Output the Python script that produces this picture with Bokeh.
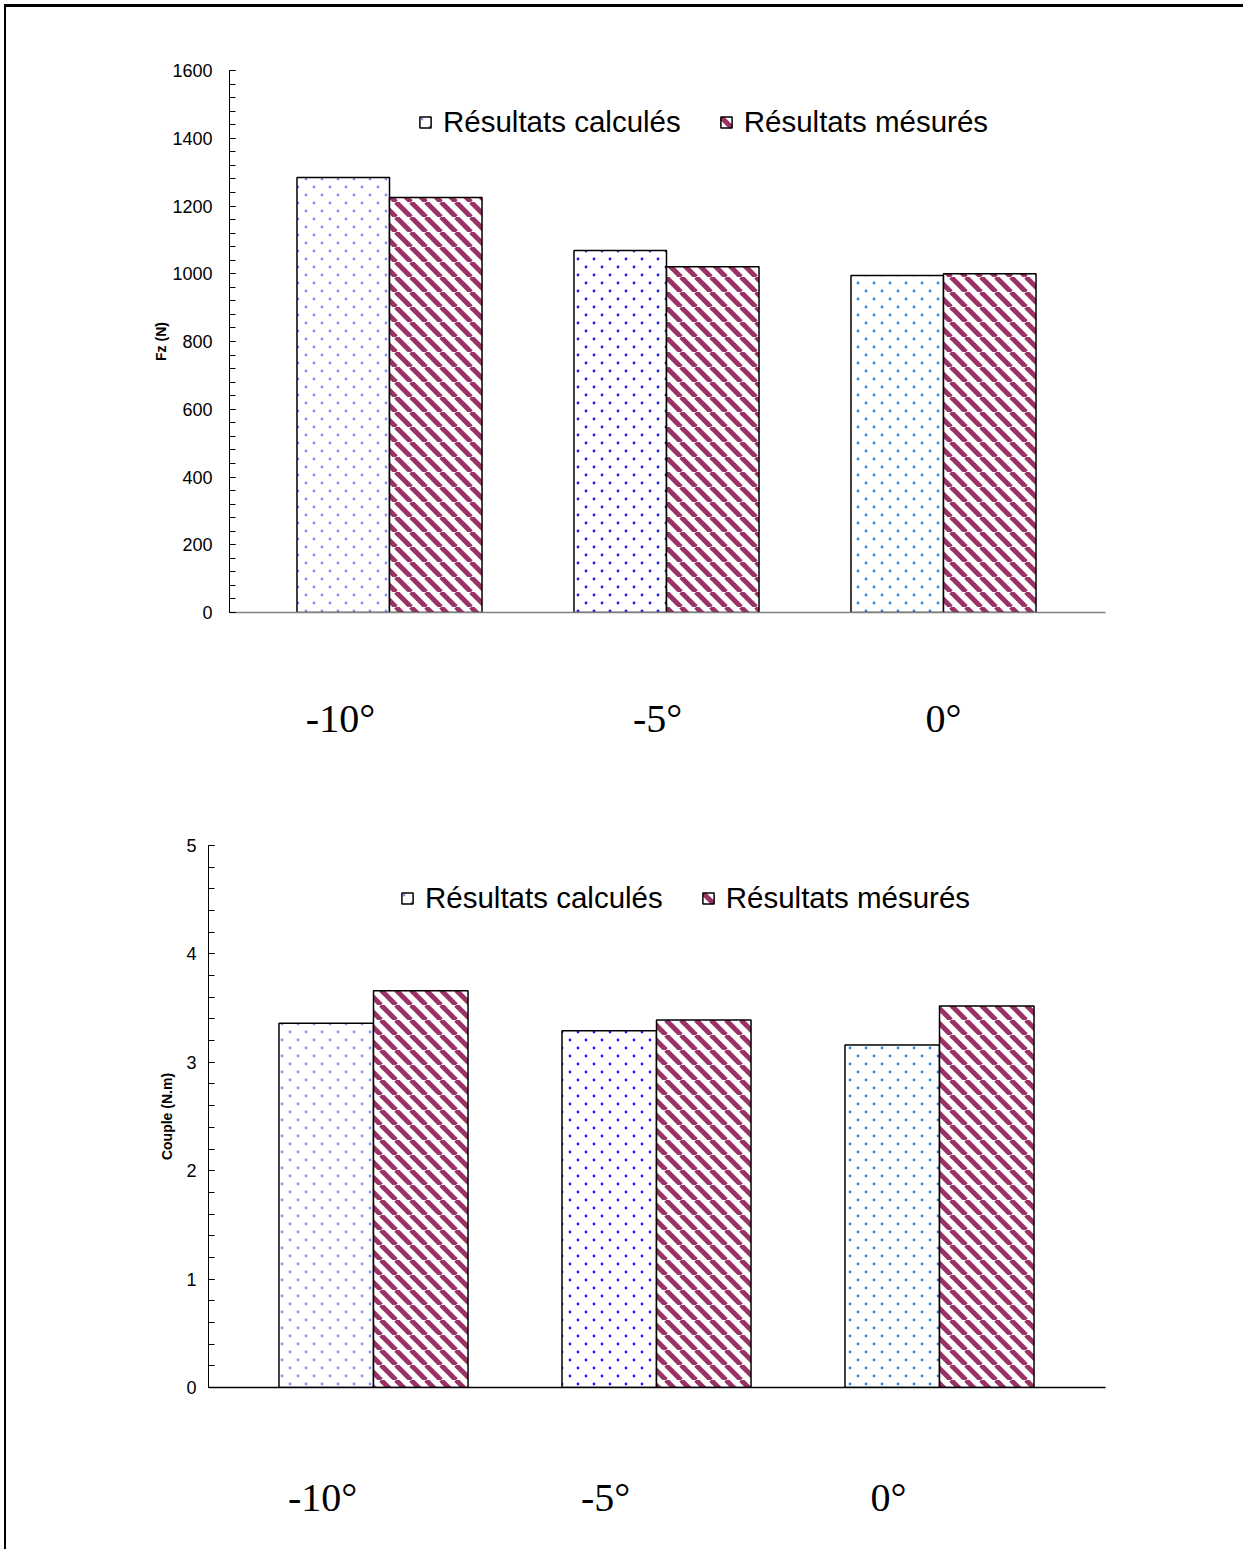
import base64
import numpy as np
from bokeh.plotting import figure
from bokeh.layouts import column
from bokeh.core.properties import value
from bokeh.models import (ColumnDataSource, FixedTicker, Legend, LegendItem,
                          ImageURLTexture, CDSView, IndexFilter)
from bokeh.embed import file_html
from bokeh.resources import INLINE

# ---------------- data ----------------
categories = ["-10°", "-5°", "0°"]
fz_calc = [1284, 1069, 995]
fz_meas = [1225, 1021, 1000]
couple_calc = [3.36, 3.29, 3.16]
couple_meas = [3.66, 3.39, 3.52]
dot_colors = ["#8c8cf2", "#1a1af5", "#2a86e0"]
stripe_color = "#993366"
series_names = ["Résultats calculés", "Résultats mésurés"]

SANS = "Liberation Sans"
SERIF = "Liberation Serif"
FIG_W = 1237


def svg_uri(svg):
    return "data:image/svg+xml;base64," + base64.b64encode(svg.encode()).decode()


def dots_texture(color):
    svg = ("<svg xmlns='http://www.w3.org/2000/svg' width='16' height='16'>"
           f"<circle cx='4' cy='4' r='1.4' fill='{color}'/>"
           f"<circle cx='12' cy='12' r='1.4' fill='{color}'/></svg>")
    return ImageURLTexture(url=svg_uri(svg))


def stripes_texture(color):
    svg = ("<svg xmlns='http://www.w3.org/2000/svg' width='15' height='15'>"
           f"<g stroke='{color}' stroke-width='5'>"
           "<line x1='-15' y1='0' x2='0' y2='15'/>"
           "<line x1='0' y1='0' x2='15' y2='15'/>"
           "<line x1='15' y1='0' x2='30' y2='15'/></g></svg>")
    return ImageURLTexture(url=svg_uri(svg))


def make_chart(calc, meas, ymax, major, ytitle, frame_left, frame_w, label_pos,
               height, border_top, frame_h, xaxis_color, legend_loc,
               tick_standoff, title_standoff, label_standoff, centers_px):
    x = np.arange(len(categories))
    w = 0.334
    src_c = ColumnDataSource(dict(x=x - w / 2, top=calc))
    src_m = ColumnDataSource(dict(x=x + w / 2, top=meas))

    c0, step = centers_px
    xlim = ((frame_left - c0) / step, (frame_left + frame_w - c0) / step)
    bl = frame_left - 6
    p = figure(width=FIG_W, height=height, output_backend="svg",
               toolbar_location=None, x_range=xlim, y_range=(0, ymax),
               min_border_left=bl, min_border_right=FIG_W - frame_w - bl,
               min_border_top=border_top,
               min_border_bottom=height - border_top - frame_h)
    p.frame_align = False
    p.outline_line_color = None
    p.grid.visible = False

    calc_renderers = []
    for i, col in enumerate(dot_colors):
        r = p.vbar(x="x", top="top", width=w, source=src_c,
                   view=CDSView(filter=IndexFilter([i])),
                   fill_color="white", line_color="black", line_width=1.5,
                   hatch_extra={"dots": dots_texture(col)},
                   hatch_pattern=value("dots"), hatch_scale=16)
        calc_renderers.append(r)
    rm = p.vbar(x="x", top="top", width=w, source=src_m, fill_color="white",
                line_color="black", line_width=1.5,
                hatch_extra={"stripes": stripes_texture(stripe_color)},
                hatch_pattern=value("stripes"), hatch_scale=15)

    # y axis
    ya = p.yaxis[0]
    ya.ticker = FixedTicker(ticks=list(np.arange(0, ymax + major / 10, major)),
                            minor_ticks=list(np.arange(0, ymax + major / 100, major / 5)))
    ya.major_tick_in = 6
    ya.major_tick_out = 0
    ya.minor_tick_in = 6
    ya.minor_tick_out = 0
    ya.axis_line_color = "black"
    ya.major_tick_line_color = "black"
    ya.minor_tick_line_color = "black"
    ya.major_label_text_font = SANS
    ya.major_label_text_font_size = "18px"
    ya.major_label_text_color = "black"
    ya.major_label_standoff = tick_standoff
    ya.axis_label = ytitle
    ya.axis_label_text_font = SANS
    ya.axis_label_text_font_style = "bold"
    ya.axis_label_text_font_size = "14px"
    ya.axis_label_text_color = "black"
    ya.axis_label_standoff = title_standoff

    # x axis with category labels
    xa = p.xaxis[0]
    xa.ticker = FixedTicker(ticks=label_pos)
    xa.major_label_overrides = {float(v): c for v, c in zip(label_pos, categories)}
    xa.major_tick_in = 0
    xa.major_tick_out = 0
    xa.minor_tick_line_color = None
    xa.axis_line_color = xaxis_color
    xa.axis_line_width = 1.5
    xa.major_label_text_font = SERIF
    xa.major_label_text_font_size = "40px"
    xa.major_label_text_color = "black"
    xa.major_label_standoff = label_standoff

    legend = Legend(items=[LegendItem(label=series_names[0], renderers=[calc_renderers[0]]),
                           LegendItem(label=series_names[1], renderers=[rm])],
                    orientation="horizontal", location=legend_loc,
                    label_text_font=SANS, label_text_font_size="29.5px",
                    label_text_color="black", glyph_width=14, glyph_height=14,
                    label_standoff=11, spacing=38, padding=0, margin=0,
                    border_line_color=None, background_fill_alpha=0)
    p.add_layout(legend, "center")
    return p


# top chart: frame x 229..1105, y 70..612
top_pos = [-0.177, 0.968, 2.0]
p1 = make_chart(fz_calc, fz_meas, 1600, 200, "Fz (N)",
                frame_left=229, frame_w=876, label_pos=top_pos,
                height=773, border_top=63, frame_h=542,
                xaxis_color="#808080", legend_loc=(189, 473),
                tick_standoff=17, title_standoff=0, label_standoff=83,
                centers_px=(389, 277))

# bottom chart: frame x 208..1105, y 845..1387
bot_pos = [-0.18, 0.82, 1.82]
p2 = make_chart(couple_calc, couple_meas, 5, 1, "Couple (N.m)",
                frame_left=208, frame_w=897, label_pos=bot_pos,
                height=769, border_top=65, frame_h=542,
                xaxis_color="black", legend_loc=(192, 472),
                tick_standoff=12, title_standoff=8, label_standoff=87,
                centers_px=(373, 283))

layout = column(p1, p2, margin=(4, 0, 0, 4),
                styles={"border-top": "3px solid black",
                        "border-left": "2px solid black"})

open("out.html", "w").write(file_html(layout, INLINE))
